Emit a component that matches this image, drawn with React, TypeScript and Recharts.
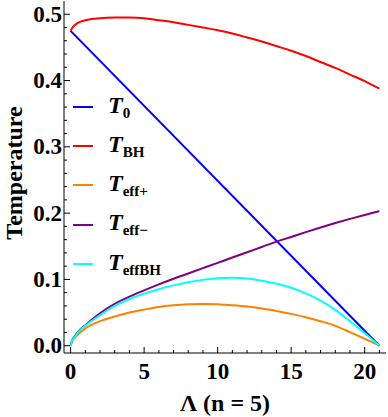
import { Legend, Line, LineChart, XAxis, YAxis } from 'recharts'

// Λ values the curves were read at
const lambda = [0, 0.1, 0.25, 0.5, 1, 2, 3, 4, 5, 6, 7, 8, 9, 10, 11, 12, 13, 14, 15, 16, 17, 18, 19, 20, 20.5, 21]

// T0 is a straight line, only the two ends are given
const tZero = [0.475, null, null, null, null, null, null, null, null, null, null, null, null, null, null, null, null, null, null, null, null, null, null, null, null, 0]
const tBH = [0.475, 0.479, 0.483, 0.487, 0.491, 0.494, 0.495, 0.495, 0.494, 0.491, 0.488, 0.484, 0.48, 0.476, 0.471, 0.465, 0.459, 0.452, 0.445, 0.437, 0.428, 0.419, 0.409, 0.399, 0.3935, 0.388]
const tEffPlus = [0, 0.007, 0.011, 0.017, 0.026, 0.037, 0.044, 0.05, 0.0545, 0.0585, 0.061, 0.0625, 0.063, 0.0625, 0.061, 0.059, 0.056, 0.0525, 0.048, 0.043, 0.037, 0.03, 0.0205, 0.0105, 0.0053, 0]
const tEffMinus = [0, 0.008, 0.013, 0.021, 0.031, 0.049, 0.063, 0.074, 0.0835, 0.0925, 0.101, 0.109, 0.117, 0.125, 0.133, 0.141, 0.149, 0.157, 0.164, 0.1713, 0.1783, 0.185, 0.1913, 0.1973, 0.2002, 0.203]
const tEffBH = [0, 0.0075, 0.012, 0.02, 0.03, 0.046, 0.06, 0.0705, 0.0785, 0.0853, 0.091, 0.0957, 0.0993, 0.1016, 0.1025, 0.1013, 0.098, 0.0935, 0.0875, 0.079, 0.068, 0.054, 0.037, 0.019, 0.0095, 0]

const xTicks = [0, 1, 2, 3, 4, 5, 6, 7, 8, 9, 10, 11, 12, 13, 14, 15, 16, 17, 18, 19, 20, 21]
const xLabels = [0, 5, 10, 15, 20]
const yTicks = [0, 0.02, 0.04, 0.06, 0.08, 0.1, 0.12, 0.14, 0.16, 0.18, 0.2, 0.22, 0.24, 0.26, 0.28, 0.3, 0.32, 0.34, 0.36, 0.38, 0.4, 0.42, 0.44, 0.46, 0.48, 0.5]
const yLabels = ['0.0', '0.1', '0.2', '0.3', '0.4', '0.5']

const seriesKeys = ['t0', 'tBH', 'tEffPlus', 'tEffMinus', 'tEffBH']
const seriesSubs = ['0', 'BH', 'eff+', 'eff\u2212', 'effBH']
const seriesColors = ['#0000ff', '#ff0000', '#ff8000', '#800080', '#00ffff']

const data = lambda.map((x, i) => ({
  x,
  t0: tZero[i],
  tBH: tBH[i],
  tEffPlus: tEffPlus[i],
  tEffMinus: tEffMinus[i],
  tEffBH: tEffBH[i],
}))

const font = "'Liberation Serif', serif"

function XTick(props: any) {
  const { x, y, payload, side } = props
  const major = xLabels.includes(payload.value)
  const len = major ? 6 : 3
  const dir = side === 'top' ? 1 : -1
  return (
    <g>
      <line x1={x} y1={y} x2={x} y2={y + dir * len} stroke="#000" strokeWidth={1} />
      {side === 'bottom' && major && (
        <text x={x} y={y + 26} textAnchor="middle" style={{ fontFamily: font }} fontWeight="bold" fontSize={23} fill="#000">
          {payload.value}
        </text>
      )}
    </g>
  )
}

function YTick(props: any) {
  const { x, y, payload, side } = props
  const label = yLabels.find((l) => Math.abs(parseFloat(l) - payload.value) < 1e-6)
  const len = label ? 6 : 3
  const dir = side === 'left' ? 1 : -1
  return (
    <g>
      <line x1={x} y1={y} x2={x + dir * len} y2={y} stroke="#000" strokeWidth={1} />
      {side === 'left' && label && (
        <text x={x - 2} y={y + 7.5} textAnchor="end" style={{ fontFamily: font }} fontWeight="bold" fontSize={23} fill="#000">
          {label}
        </text>
      )}
    </g>
  )
}

function LegendBox() {
  return (
    <div style={{ fontFamily: font }}>
      {seriesKeys.map((k, i) => (
        <div key={k} style={{ height: 39.3, display: 'flex', alignItems: 'center' }}>
          <div style={{ width: 20, height: 2, background: seriesColors[i], marginRight: 15 }} />
          <span style={{ fontSize: 24, fontWeight: 'bold', fontStyle: 'italic', color: '#000', lineHeight: 1 }}>
            T
            <span style={{ fontSize: 15, fontStyle: 'normal', verticalAlign: '-0.35em' }}>{seriesSubs[i]}</span>
          </span>
        </div>
      ))}
    </div>
  )
}

export default function App() {
  return (
    <div style={{ position: 'absolute', left: 0, top: 0, width: 388, height: 417, background: '#fff', fontFamily: font }}>
      <LineChart width={388} height={417} data={data} margin={{ top: 1, right: 2, bottom: 0, left: 0 }}>
        <XAxis
          xAxisId="b"
          dataKey="x"
          type="number"
          domain={[-0.45, 21.45]}
          ticks={xTicks}
          interval={0}
          height={64}
          tickSize={0}
          tickMargin={0}
          tickLine={false}
          axisLine={{ stroke: '#000' }}
          tick={<XTick side="bottom" />}
          allowDataOverflow
          label={{
            content: () => (
              <text x={225} y={411} textAnchor="middle" style={{ fontFamily: font }} fontWeight="bold" fontSize={24} fill="#000">
                Λ (n = 5)
              </text>
            ),
          }}
        />
        <XAxis
          xAxisId="t"
          orientation="top"
          dataKey="x"
          type="number"
          domain={[-0.45, 21.45]}
          ticks={xTicks}
          interval={0}
          height={0}
          tickSize={0}
          tickMargin={0}
          tickLine={false}
          axisLine={{ stroke: '#000' }}
          tick={<XTick side="top" />}
          allowDataOverflow
        />
        <YAxis
          yAxisId="l"
          type="number"
          domain={[-0.011, 0.52]}
          ticks={yTicks}
          interval={0}
          width={64}
          tickSize={0}
          tickMargin={0}
          tickLine={false}
          axisLine={{ stroke: '#000' }}
          tick={<YTick side="left" />}
          allowDataOverflow
          label={{
            content: () => (
              <text
                x={22}
                y={173}
                transform="rotate(-90 22 173)"
                textAnchor="middle"
                style={{ fontFamily: font }}
                fontWeight="bold"
                fontSize={24}
                fill="#000"
              >
                Temperature
              </text>
            ),
          }}
        />
        <YAxis
          yAxisId="r"
          orientation="right"
          type="number"
          domain={[-0.011, 0.52]}
          ticks={yTicks}
          interval={0}
          width={0}
          tickSize={0}
          tickMargin={0}
          tickLine={false}
          axisLine={{ stroke: '#000' }}
          tick={<YTick side="right" />}
          allowDataOverflow
        />
        <Legend
          layout="horizontal"
          verticalAlign="middle"
          align="center"
          wrapperStyle={{ left: 73, top: 87, width: 'auto', height: 'auto' }}
          content={() => <LegendBox />}
        />
        {seriesKeys.map((k, i) => (
          <Line
            key={k}
            xAxisId="b"
            yAxisId="l"
            dataKey={k}
            type={k === 't0' ? 'linear' : 'monotone'}
            connectNulls
            stroke={seriesColors[i]}
            strokeWidth={2}
            dot={false}
            isAnimationActive={false}
          />
        ))}
      </LineChart>
    </div>
  )
}
